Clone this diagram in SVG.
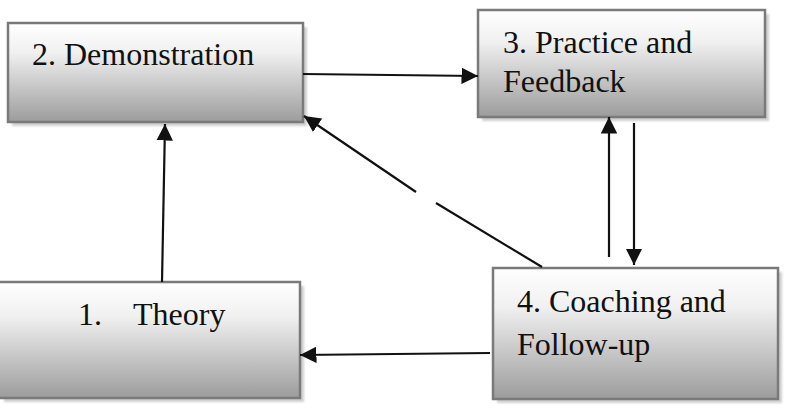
<svg xmlns="http://www.w3.org/2000/svg" width="786" height="414" viewBox="0 0 786 414">
  <style>
    .box { fill: url(#boxFill); stroke: #7a7a7a; stroke-width: 2.5; }
    .shadow { fill: #cfcfcf; filter: url(#soft); }
    .label { font-family: "Liberation Serif", "Times New Roman", serif; font-size: 32px; fill: #111; }
    .link { stroke: #111; stroke-width: 2.2; fill: none; marker-end: url(#head); }
    .plain { stroke: #111; stroke-width: 2.2; fill: none; }
  </style>
  <defs>
    <linearGradient id="boxFill" x1="0" y1="0" x2="0" y2="1">
      <stop offset="0" stop-color="#ffffff"/>
      <stop offset="0.3" stop-color="#f0f0f0"/>
      <stop offset="1" stop-color="#9c9c9c"/>
    </linearGradient>
    <filter id="soft" x="-5%" y="-5%" width="110%" height="110%">
      <feGaussianBlur stdDeviation="1.2"/>
    </filter>
    <marker id="head" viewBox="0 0 10 10" refX="10" refY="5" markerWidth="7.5" markerHeight="7.5" markerUnits="strokeWidth" orient="auto">
      <path d="M0,0 L10,5 L0,10 Z" fill="#111"/>
    </marker>
  </defs>

  <g id="node-demonstration">
    <rect class="shadow" x="12" y="27" width="295" height="99"/>
    <rect class="box" x="8" y="23" width="295" height="99"/>
    <text class="label" x="32" y="65">2. Demonstration</text>
  </g>

  <g id="node-practice">
    <rect class="shadow" x="482" y="14" width="287" height="107"/>
    <rect class="box" x="478" y="10" width="287" height="107"/>
    <text class="label" x="503" y="53">3. Practice and</text>
    <text class="label" x="503" y="92">Feedback</text>
  </g>

  <g id="node-theory">
    <rect class="shadow" x="4" y="286" width="300" height="116"/>
    <rect class="box" x="-2" y="282" width="302" height="116"/>
    <text class="label" x="78" y="325">1.</text>
    <text class="label" x="133" y="325">Theory</text>
  </g>

  <g id="node-coaching">
    <rect class="shadow" x="497" y="272" width="285" height="131"/>
    <rect class="box" x="493" y="268" width="285" height="131"/>
    <text class="label" x="517" y="312">4. Coaching and</text>
    <text class="label" x="517" y="355">Follow-up</text>
  </g>

  <g id="connectors">
    <!-- Demonstration to Practice and Feedback -->
    <line class="link" x1="303" y1="74" x2="478" y2="76"/>
    <!-- Theory up to Demonstration -->
    <line class="link" x1="162" y1="282" x2="165" y2="124"/>
    <!-- Coaching back to Demonstration, broken line -->
    <line class="plain" x1="542" y1="267" x2="436" y2="203"/>
    <line class="link" x1="416" y1="192" x2="304" y2="116"/>
    <!-- Coaching up to Practice -->
    <line class="link" x1="609" y1="257" x2="609" y2="117"/>
    <!-- Practice down to Coaching -->
    <line class="link" x1="634" y1="123" x2="634" y2="265"/>
    <!-- Coaching to Theory -->
    <line class="link" x1="490" y1="353" x2="300" y2="355"/>
  </g>
</svg>
